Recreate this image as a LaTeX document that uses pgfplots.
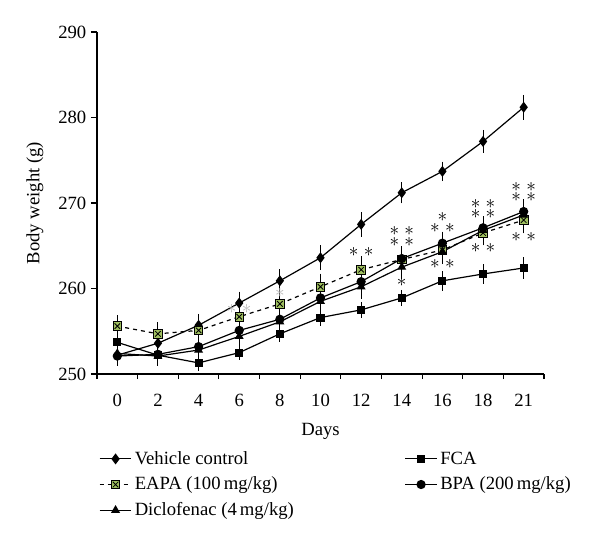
\documentclass[border=0pt]{standalone}
\usepackage{pgfplots}
\pgfplotsset{compat=1.18}
\usepackage{fontspec}
\setmainfont{Liberation Serif}
\definecolor{eapa}{RGB}{160,192,96}
\pgfdeclareplotmark{sqx}{%
  \pgfpathrectangle{\pgfpoint{-\pgfplotmarksize}{-\pgfplotmarksize}}{\pgfpoint{2\pgfplotmarksize}{2\pgfplotmarksize}}%
  \pgfusepathqfillstroke
  \pgfpathmoveto{\pgfpoint{-0.65\pgfplotmarksize}{-0.65\pgfplotmarksize}}%
  \pgfpathlineto{\pgfpoint{0.65\pgfplotmarksize}{0.65\pgfplotmarksize}}%
  \pgfpathmoveto{\pgfpoint{-0.65\pgfplotmarksize}{0.65\pgfplotmarksize}}%
  \pgfpathlineto{\pgfpoint{0.65\pgfplotmarksize}{-0.65\pgfplotmarksize}}%
  \pgfusepathqstroke
}
\newcommand{\st}{$\ast\hspace{4pt}\ast$}
\begin{document}
\begin{tikzpicture}[font=\fontsize{14}{16}\selectfont]
\begin{axis}[
  scale only axis,
  width=335.25pt, height=256.5pt,
  xmin=-0.5, xmax=10.5, ymin=250, ymax=290,
  axis x line*=bottom, axis y line*=left,
  axis line style={line width=0.8pt},
  tick align=outside,
  xtick={0,...,10},
  xticklabels={0,2,4,6,8,10,12,14,16,18,21},
  major x tick style={draw=none},
  minor xtick={-0.5,0.5,...,10.5},
  minor tick length=3.75pt,
  major tick length=4.5pt,
  tick style={black, line width=0.8pt},
  ytick={250,260,...,290},
  xticklabel style={yshift=-7pt},
  /pgf/number format/assume math mode=true,
  every axis x label/.style={at={(axis description cs:0.5,0)}, yshift=-43pt, anchor=center},
  every axis y label/.style={at={(axis description cs:0,0.5)}, xshift=-46.5pt, rotate=90, anchor=center},
  xlabel={Days},
  ylabel={Body weight (g)},
  clip=false,
  legend columns=2,
  legend cell align=left,
  legend style={at={(-0.005,-0.21)}, anchor=north west, draw=none, fill=none,
    /tikz/column 2/.style={column sep=81pt}, row sep=4pt,
    font=\fontsize{14}{16}\selectfont},
  legend image code/.code={\draw[mark repeat=2,mark phase=2] plot coordinates {(0cm,0cm) (0.42cm,0cm) (0.84cm,0cm)};},
  every axis plot/.append style={line width=0.9pt},
  error bars/y dir=both, error bars/y explicit,
  error bars/error mark options={black, mark size=3.5pt, line width=0.8pt},
  error bars/error bar style={black, line width=0.8pt},
]
% Vehicle control
\addplot[black, mark=diamond*, mark size=3.4pt, mark options={solid}]
  table[x=x, y=y, y error=e] {
x y e
0 252.2 0.6
1 253.6 0.7
2 255.7 0.8
3 258.3 0.8
4 260.9 0.8
5 263.6 0.9
6 267.5 0.9
7 271.2 0.7
8 273.7 0.6
9 277.2 0.8
10 281.2 0.9
};
\addlegendentry{Vehicle control}
% FCA
\addplot[black, mark=square*, mark size=2.6pt, mark options={solid}]
  table[x=x, y=y, y error=e] {
x y e
0 253.7 0.6
1 252.2 0.5
2 251.3 0.4
3 252.5 0.3
4 254.7 0.4
5 256.6 0.4
6 257.5 0.4
7 258.9 0.4
8 260.9 0.6
9 261.7 0.6
10 262.4 0.7
};
\addlegendentry{FCA}
% EAPA
\addplot[black, dashed, mark=sqx, mark size=3.2pt, mark options={solid, fill=eapa, line width=0.6pt}]
  table[x=x, y=y, y error=e] {
x y e
0 255.6 0.7
1 254.7 0.8
2 255.1 0.9
3 256.7 0.9
4 258.2 0.9
5 260.2 1.0
6 262.2 1.0
7 263.4 1.0
8 264.5 1.0
9 266.5 0.9
10 268.0 1.0
};
\addlegendentry{EAPA (100\,mg/kg)}
% BPA
\addplot[black, mark=*, mark size=3pt, mark options={solid}]
  table[x=x, y=y, y error=e] {
x y e
0 252.1 0.6
1 252.3 0.6
2 253.2 0.6
3 255.1 0.7
4 256.4 0.7
5 258.9 0.8
6 260.8 0.8
7 263.5 0.9
8 265.3 0.8
9 267.1 0.8
10 269.0 0.9
};
\addlegendentry{BPA (200\,mg/kg)}
% Diclofenac
\addplot[black, mark=triangle*, mark size=3pt, mark options={solid}]
  table[x=x, y=y, y error=e] {
x y e
0 252.4 0.6
1 252.1 0.6
2 252.8 0.6
3 254.4 0.7
4 256.1 0.8
5 258.5 0.8
6 260.2 0.9
7 262.5 0.9
8 264.3 0.9
9 266.8 0.8
10 268.6 0.9
};
\addlegendentry{Diclofenac (4\,mg/kg)}
% significance marks
\begin{scope}[every node/.style={inner sep=0pt, align=center, font=\fontsize{14}{8}\selectfont}]
\node[gray!55] at (axis cs:3,257.6) {\st};
\node[gray!55] at (axis cs:4,259.5) {$\ast$};
\node at (axis cs:6,264.3) {\st};
\node at (axis cs:7,266.1) {\st\\\st};
\node at (axis cs:7,260.8) {$\ast$};
\node at (axis cs:8,267.7) {$\ast$\\\st};
\node at (axis cs:8,262.9) {\st};
\node at (axis cs:9,269.3) {\st\\\st};
\node at (axis cs:9,264.7) {\st};
\node at (axis cs:10,271.3) {\st\\\st};
\node at (axis cs:10,266.0) {\st};
\end{scope}
\coordinate (o) at (rel axis cs:0,0);
\end{axis}
\path (o) ++(-72.75pt,-123.75pt) rectangle ++(450pt,404.25pt);
\end{tikzpicture}
\end{document}
